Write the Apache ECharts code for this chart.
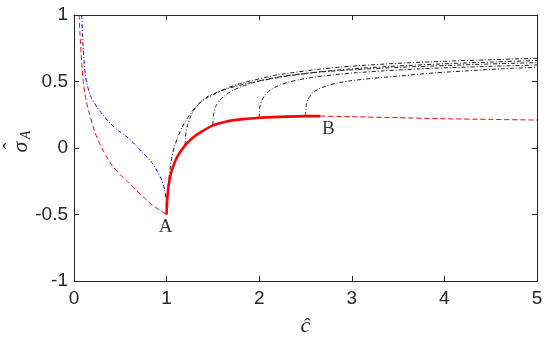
<!DOCTYPE html>
<html><head><meta charset="utf-8">
<script src="https://cdn.jsdelivr.net/npm/echarts@6/dist/echarts.min.js"></script>
<style>html,body{margin:0;padding:0;background:#fff}#c{width:550px;height:340px}</style>
</head><body><div id="c"></div>
<script>
// tick labels
const xTickLabels = ['0','1','2','3','4','5'];
const yTickLabels = ['-1','-0.5','0','0.5','1'];

// red dashed branch, left of A
const redDashLeft = [[0.055,1],[0.065,0.85],[0.078,0.7],[0.1,0.5],[0.13,0.36],[0.17,0.25],[0.23,0.11],[0.3,0],[0.36,-0.075],[0.42,-0.14],[0.5,-0.2],[0.58,-0.255],[0.66,-0.31],[0.75,-0.37],[0.83,-0.42],[0.92,-0.465],[1,-0.5]];
// blue dash-dot branch, left of A
const blueDashDot = [[0.083,1],[0.092,0.85],[0.1,0.74],[0.115,0.6],[0.137,0.49],[0.18,0.39],[0.245,0.31],[0.31,0.25],[0.39,0.186],[0.48,0.13],[0.57,0.085],[0.66,0.025],[0.75,-0.04],[0.83,-0.1],[0.89,-0.165],[0.94,-0.23],[0.98,-0.316],[0.995,-0.4],[1,-0.49]];
// red solid A -> B
const redSolid = [[1,-0.5],[1.003,-0.43],[1.01,-0.36],[1.02,-0.29],[1.04,-0.21],[1.07,-0.14],[1.12,-0.06],[1.2,0.02],[1.28,0.075],[1.36,0.115],[1.5,0.17],[1.65,0.2],[1.8,0.215],[2,0.228],[2.25,0.235],[2.5,0.24],[2.66,0.24]];
// red dashed after B
const redDashRight = [[2.66,0.24],[3,0.235],[3.5,0.228],[4,0.22],[4.5,0.215],[5,0.21]];
// black dash-dot curves branching off the red curve
const black1 = [[1,-0.5],[1.005,-0.4],[1.015,-0.3],[1.03,-0.2],[1.05,-0.1],[1.08,0],[1.12,0.08],[1.17,0.16],[1.25,0.25],[1.33,0.32],[1.42,0.37],[1.53,0.41],[1.65,0.45],[1.8,0.485],[1.94,0.51],[2.2,0.55],[2.62,0.59],[3,0.615],[3.5,0.637],[4,0.652],[4.5,0.664],[5,0.675]];
const black2 = [[1.2,0.02],[1.203,0.07],[1.21,0.12],[1.23,0.18],[1.26,0.24],[1.31,0.3],[1.37,0.35],[1.45,0.39],[1.55,0.42],[1.65,0.445],[1.9,0.49],[2.3,0.54],[2.62,0.57],[3,0.595],[3.5,0.617],[4,0.633],[4.5,0.646],[5,0.658]];
const black3 = [[1.5,0.17],[1.503,0.22],[1.51,0.26],[1.53,0.31],[1.57,0.355],[1.63,0.395],[1.72,0.435],[1.82,0.465],[2,0.505],[2.26,0.54],[2.6,0.568],[3,0.588],[3.5,0.606],[4,0.62],[4.5,0.632],[5,0.642]];
const black4 = [[2,0.228],[2.003,0.28],[2.01,0.32],[2.03,0.36],[2.07,0.405],[2.13,0.44],[2.21,0.47],[2.32,0.495],[2.44,0.515],[2.6,0.533],[2.8,0.55],[3.05,0.566],[3.34,0.58],[3.7,0.594],[4.06,0.604],[4.5,0.614],[5,0.624]];
const black5 = [[2.5,0.24],[2.503,0.29],[2.51,0.33],[2.53,0.37],[2.57,0.41],[2.63,0.44],[2.72,0.465],[2.84,0.488],[2.98,0.505],[3.2,0.522],[3.52,0.542],[3.9,0.565],[4.24,0.58],[4.6,0.595],[5,0.607]];
// point labels
const pointLabels = [{name:'A', value:[1,-0.5]}, {name:'B', value:[2.66,0.24]}];

const axisColor = '#262626';
const dashDot = [4,2,1,2];
function blk(d){
  return {type:'line', data:d, showSymbol:false, smooth:0.25,
    lineStyle:{color:'#000', width:0.9, type:dashDot}, z:3, silent:true};
}
const tick = {show:true, inside:true, length:5, lineStyle:{color:axisColor}};
const line = {show:true, onZero:false, lineStyle:{color:axisColor, width:1}};
const chart = echarts.init(document.getElementById('c'), null, {renderer:'canvas'});
chart.setOption({
  animation:false,
  backgroundColor:'#fff',
  grid:{left:74, right:13, top:15, bottom:59, containLabel:false, outerBoundsMode:'none'},
  xAxis:[{
    type:'value', min:0, max:5, interval:1, position:'bottom',
    axisLine:line, axisTick:tick, splitLine:{show:false},
    axisLabel:{color:axisColor, fontFamily:'Liberation Sans', fontSize:19, margin:8,
      formatter:(v,i)=>xTickLabels[i]},
    name:'ĉ', nameLocation:'middle', nameGap:34,
    nameTextStyle:{fontFamily:'Liberation Serif', fontStyle:'italic', fontSize:22, color:axisColor}
  },{
    type:'value', min:0, max:5, interval:1, position:'top',
    axisLine:line, axisTick:tick, axisLabel:{show:false}, splitLine:{show:false}
  }],
  yAxis:[{
    type:'value', min:-1, max:1, interval:0.5, position:'left',
    axisLine:line, axisTick:tick, splitLine:{show:false},
    axisLabel:{color:axisColor, fontFamily:'Liberation Sans', fontSize:19, margin:6,
      formatter:(v,i)=>yTickLabels[i]}
  },{
    type:'value', min:-1, max:1, interval:0.5, position:'right',
    axisLine:line, axisTick:tick, axisLabel:{show:false}, splitLine:{show:false}
  }],
  graphic:[{
    type:'group', x:21, y:143, rotation:Math.PI/2, silent:true,
    children:[
      {type:'text', x:-4, y:0, style:{text:'σ', fontFamily:'Liberation Serif', fontStyle:'italic', fontSize:22, fill:axisColor, align:'center', verticalAlign:'middle'}},
      {type:'text', x:-3, y:-8, style:{text:'ˆ', fontFamily:'Liberation Serif', fontSize:20, fill:axisColor, align:'center', verticalAlign:'middle'}},
      {type:'text', x:8, y:5, style:{text:'A', fontFamily:'Liberation Serif', fontStyle:'italic', fontSize:14, fill:axisColor, align:'center', verticalAlign:'middle'}}
    ]
  }],
  series:[
    {type:'line', data:redDashLeft, showSymbol:false, smooth:0.25,
      lineStyle:{color:'#ff0000', width:1, type:[5,3]}, z:2, silent:true},
    {type:'line', data:blueDashDot, showSymbol:false, smooth:0.25,
      lineStyle:{color:'#0000ff', width:1, type:dashDot}, z:2, silent:true},
    {type:'line', data:redDashRight, showSymbol:false, smooth:0.25,
      lineStyle:{color:'#ff0000', width:1, type:[5,3]}, z:2, silent:true},
    blk(black1), blk(black2), blk(black3), blk(black4), blk(black5),
    {type:'line', data:redSolid, showSymbol:false, smooth:0.25,
      lineStyle:{color:'#ff0000', width:2.6, type:'solid'}, z:4, silent:true},
    {type:'scatter', data:pointLabels, symbolSize:0, z:5, silent:true,
      label:{show:true, position:'bottom', distance:3, formatter:p=>p.name,
        fontFamily:'Liberation Serif', fontSize:19, color:'#000'},
      labelLayout:function(p){ return p.dataIndex===1 ? {dx:8} : {dx:-1}; }
    }
  ]
});
</script></body></html>
